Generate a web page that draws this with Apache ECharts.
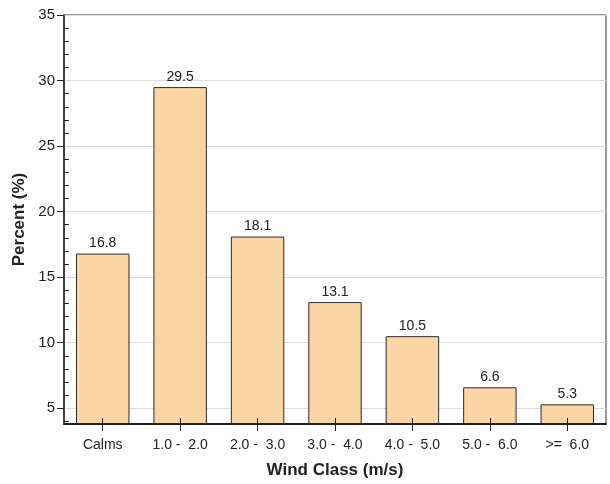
<!DOCTYPE html>
<html>
<head>
<meta charset="utf-8">
<script src="https://cdn.jsdelivr.net/npm/echarts@6/dist/echarts.min.js"></script>
<style>
  html, body { margin: 0; padding: 0; background: #fff; }
  #chart { width: 610px; height: 484px; }
</style>
</head>
<body>
<div id="chart"></div>
<script>
// Wind class frequency distribution
const categories = ['Calms', '1.0 -  2.0', '2.0 -  3.0', '3.0 -  4.0', '4.0 -  5.0', '5.0 -  6.0', '>=  6.0'];
const percentValues = [16.8, 29.5, 18.1, 13.1, 10.5, 6.6, 5.3];
const majorTicks = [5, 10, 15, 20, 25, 30, 35];
const minorTicks = [4, 6, 7, 8, 9, 11, 12, 13, 14, 16, 17, 18, 19, 21, 22, 23, 24, 26, 27, 28, 29, 31, 32, 33, 34];
const yMin = 3.8;
const yMax = 35;

const font = '"Liberation Sans", Arial, sans-serif';

const chart = echarts.init(document.getElementById('chart'), null, { renderer: 'canvas' });

chart.setOption({
  animation: false,
  backgroundColor: '#ffffff',
  grid: {
    left: 64, right: 4, top: 15, bottom: 56,
    show: true, borderColor: '#333', borderWidth: 1, backgroundColor: 'transparent'
  },
  xAxis: [
    {
      type: 'category',
      data: categories,
      position: 'bottom',
      z: 5,
      name: 'Wind Class (m/s)',
      nameLocation: 'middle',
      nameGap: 38,
      nameTextStyle: { fontFamily: font, fontWeight: 'bold', fontSize: 17, color: '#222' },
      axisLine: { show: true, lineStyle: { color: '#222', width: 2 } },
      axisTick: { show: true, alignWithLabel: true, length: 7, lineStyle: { color: '#222', width: 1 } },
      axisLabel: { fontFamily: font, fontSize: 14, color: '#222', margin: 14 },
      splitLine: { show: false }
    },
    {
      type: 'category',
      data: categories,
      position: 'bottom',
      z: 5,
      axisLine: { show: false },
      axisTick: { show: true, inside: true, alignWithLabel: true, length: 6, lineStyle: { color: '#222', width: 1 } },
      axisLabel: { show: false },
      splitLine: { show: false }
    }
  ],
  yAxis: [
    {
      type: 'value',
      min: yMin,
      max: yMax,
      name: 'Percent (%)',
      nameLocation: 'middle',
      nameGap: 35,
      nameTextStyle: { fontFamily: font, fontWeight: 'bold', fontSize: 17, color: '#222' },
      axisLine: { show: true, lineStyle: { color: '#222', width: 1.5 } },
      axisTick: { show: true, length: 7, customValues: majorTicks, lineStyle: { color: '#222', width: 1 } },
      axisLabel: { customValues: majorTicks, fontFamily: font, fontSize: 15, color: '#222', margin: 9 },
      splitLine: { show: true, lineStyle: { color: '#dcdcdc', width: 1 } }
    },
    {
      type: 'value',
      min: yMin,
      max: yMax,
      position: 'left',
      z: 5,
      axisLine: { show: false },
      axisTick: { show: true, inside: true, length: 5, customValues: minorTicks, lineStyle: { color: '#222', width: 1 } },
      axisLabel: { show: false },
      splitLine: { show: false }
    }
  ],
  series: [
    {
      type: 'bar',
      xAxisIndex: 0,
      yAxisIndex: 0,
      data: percentValues,
      barWidth: '69%',
      itemStyle: { color: '#fcd5a5', borderColor: '#2a2a2a', borderWidth: 1 },
      label: {
        show: true,
        position: 'top',
        distance: 3,
        fontFamily: font,
        fontSize: 14,
        color: '#222',
        formatter: p => p.value.toFixed(1)
      }
    }
  ]
});
</script>
</body>
</html>
